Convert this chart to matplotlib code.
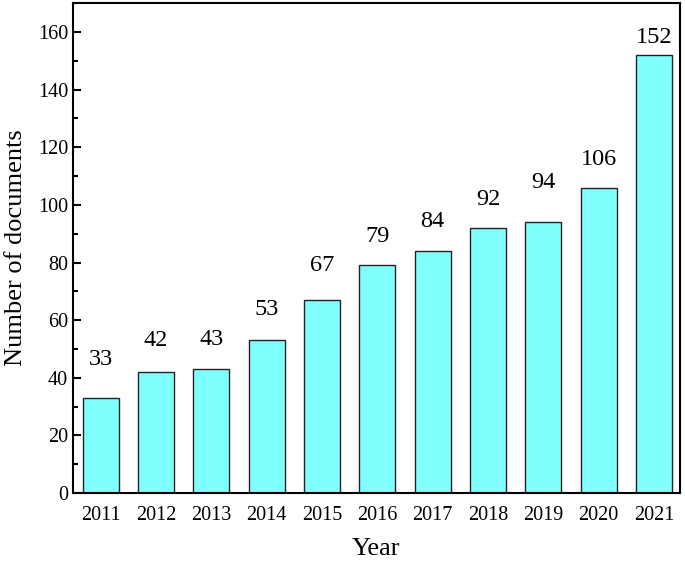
import matplotlib
matplotlib.use('Agg')
import matplotlib.pyplot as plt
from matplotlib.ticker import MultipleLocator

years = ['2011', '2012', '2013', '2014', '2015', '2016', '2017', '2018', '2019', '2020', '2021']
documents = [33, 42, 43, 53, 67, 79, 84, 92, 94, 106, 152]

# gap between bar top and label baseline, in data units (labels were hand placed)
label_gap = [11.5, 9, 8.3, 8.7, 10, 8, 8.3, 8, 12, 8, 4.2]

plt.rcParams['font.family'] = ['Liberation Serif', 'DejaVu Serif']

fig = plt.figure(figsize=(6.85, 5.63), dpi=100)
ax = fig.add_axes([0.1066, 0.1243, 0.886, 0.870])

x = range(len(years))
ax.bar(x, documents, width=0.65, color='#80FFFF', edgecolor='#222222', linewidth=1.0)

for xi, v, g in zip(x, documents, label_gap):
    ax.text(xi, v + g, str(v), ha='center', va='baseline', fontsize=17.5)

ax.set_xlim(-0.5, 10.47)
ax.set_ylim(0, 170)
ax.set_xticks(list(x))
ax.set_xticklabels(years)
ax.yaxis.set_major_locator(MultipleLocator(20))
ax.yaxis.set_minor_locator(MultipleLocator(10))
ax.tick_params(axis='y', which='major', direction='in', length=6, width=1.5, labelsize=14.5)
ax.tick_params(axis='y', which='minor', direction='in', length=3.5, width=1.5)
ax.tick_params(axis='x', which='both', length=0, labelsize=14.5, pad=9)

for s in ax.spines.values():
    s.set_linewidth(1.5)

ax.set_xlabel('Year', fontsize=19, labelpad=10)
ax.set_ylabel('Number of documents', fontsize=19, labelpad=8)

fig.savefig('out.png', dpi=100)
plt.close(fig)
